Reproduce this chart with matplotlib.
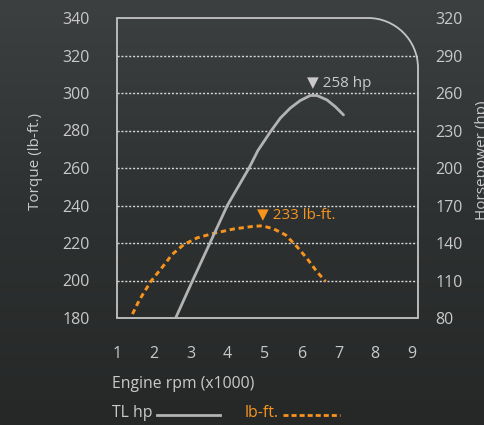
import matplotlib
matplotlib.use('Agg')
import matplotlib.pyplot as plt
import numpy as np
from matplotlib.path import Path
from matplotlib.patches import PathPatch
from matplotlib.colors import LinearSegmentedColormap
from matplotlib.lines import Line2D

# ---- data ----
rpm_hp = [2.59, 3.05, 3.52, 3.99, 4.58, 4.82, 5.16, 5.43, 5.70, 5.97, 6.24, 6.42, 6.69, 6.92, 7.14]
hp = [80, 110, 140, 170, 200, 214, 229, 240, 248, 254, 258, 258, 254.5, 249, 242.5]

rpm_tq = [1.42, 1.56, 1.69, 1.92, 2.24, 2.50, 2.82, 3.18, 3.63, 4.17, 4.62, 4.94,
          5.25, 5.57, 5.88, 6.15, 6.42, 6.65]
torque = [182.1, 187.8, 192.3, 199.6, 207.4, 214, 219.3, 222.8, 225.2, 227.5, 228.7, 229.2,
          227.5, 224.3, 218, 211.8, 204.7, 199.6]

x_ticks = [1, 2, 3, 4, 5, 6, 7, 8, 9]
torque_ticks = [180, 200, 220, 240, 260, 280, 300, 320, 340]
hp_ticks = [80, 110, 140, 170, 200, 230, 260, 290, 320]

peak_hp_label = '▼ 258 hp'
peak_tq_label = '▼ 233 lb-ft.'

TXT = '#c9c9c9'
ORANGE = '#f7941d'
GRAY = '#b3b3b3'
FONT = ['Open Sans', 'DejaVu Sans']
plt.rcParams['font.family'] = FONT

W, H = 485, 425
fig = plt.figure(figsize=(W / 100, H / 100), dpi=100)

# background gradient
bg = fig.add_axes([0, 0, 1, 1], zorder=-10)
grad = np.linspace(0, 1, 256).reshape(-1, 1)
cmap = LinearSegmentedColormap.from_list('bg', ['#3d4041', '#2e3131', '#262828'])
bg.imshow(grad, aspect='auto', cmap=cmap, extent=[0, 1, 0, 1])
bg.axis('off')

ax = fig.add_axes([117 / W, 1 - 318 / H, 301 / W, 300 / H])
ax.patch.set_alpha(0)
for s in ax.spines.values():
    s.set_visible(False)
ax.set_xlim(1.03, 9.16)
ax.set_ylim(180, 340)

ax2 = ax.twinx()
for s in ax2.spines.values():
    s.set_visible(False)
ax2.set_ylim(80, 320)

# rounded box
rx, ry = 50 / 301, 50 / 300
k = 0.5523
verts = [(0, 0), (0, 1), (1 - rx, 1),
         (1 - rx + k * rx, 1), (1, 1 - ry + k * ry), (1, 1 - ry),
         (1, 0), (0, 0)]
codes = [Path.MOVETO, Path.LINETO, Path.LINETO,
         Path.CURVE4, Path.CURVE4, Path.CURVE4,
         Path.LINETO, Path.CLOSEPOLY]
box = PathPatch(Path(verts, codes), transform=ax.transAxes, facecolor='none',
                edgecolor='#c4c4c4', lw=1.3, clip_on=False, zorder=5)
ax.add_patch(box)

# grid lines
for t in torque_ticks[1:-1]:
    ax.axhline(t, color='#d8d8d8', lw=1.0, ls=(0, (1.5, 1.3)), zorder=1)

# curves
ax.plot(rpm_tq, torque, color=ORANGE, lw=2.1, ls=(0, (1.8, 1.3)), zorder=3,
        dash_capstyle='butt', dash_joinstyle='round')
ax2.plot(rpm_hp, hp, color=GRAY, lw=2.0, zorder=3, solid_capstyle='round',
         solid_joinstyle='round')

# ticks
ax.set_xticks(x_ticks)
ax.set_yticks(torque_ticks)
ax2.set_yticks(hp_ticks)
ax.tick_params(axis='x', length=0, pad=20, labelsize=11.5, colors=TXT)
ax.tick_params(axis='y', length=0, pad=19.5, labelsize=11.5, colors=TXT)
ax2.tick_params(axis='y', length=0, pad=12.5, labelsize=11.5, colors=TXT)

# axis labels
ax.set_ylabel('Torque (lb-ft.)', color=TXT, fontsize=11)
ax.yaxis.set_label_coords(-0.246, 0.523)
ax2.set_ylabel('Horsepower (hp)', color=TXT, fontsize=11)
ax2.yaxis.set_label_coords(1.189, 0.527)
ax.text((112 - 117) / 301, -(384 - 318) / 300, 'Engine rpm (x1000)', transform=ax.transAxes,
        ha='left', va='center', color=TXT, fontsize=11.3)

# peak annotations
i = hp.index(max(hp))
ax2.annotate(peak_hp_label, xy=(rpm_hp[i] + 0.09, hp[i]), xytext=(-4.5, 3.5), textcoords='offset points',
             ha='left', va='bottom', color=TXT, fontsize=11)
j = torque.index(max(torque))
ax.annotate(peak_tq_label, xy=(rpm_tq[j], torque[j]), xytext=(-4, 2.5), textcoords='offset points',
            ha='left', va='bottom', color=ORANGE, fontsize=11)

# legend (bottom)
fig.text(112 / W, 1 - 413 / H, 'TL hp', ha='left', va='center', color=TXT, fontsize=11.3)
fig.add_artist(Line2D([157 / W, 220 / W], [1 - 415 / H, 1 - 415 / H], color=GRAY, lw=2.0,
                      transform=fig.transFigure))
fig.text(245 / W, 1 - 413 / H, 'lb-ft.', ha='left', va='center', color=ORANGE, fontsize=11.3)
fig.add_artist(Line2D([283 / W, 340 / W], [1 - 415 / H, 1 - 415 / H], color=ORANGE, lw=2.0,
                      ls=(0, (1.8, 1.1)), transform=fig.transFigure))

fig.savefig('out.png', dpi=100)
